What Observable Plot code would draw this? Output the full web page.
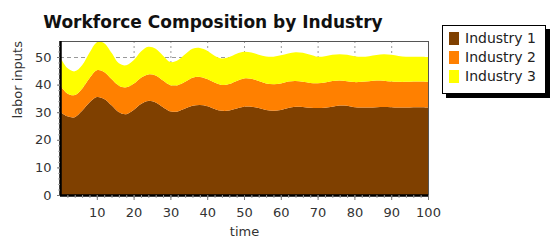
<!DOCTYPE html>
<html>
<head>
<meta charset="utf-8">
<script src="https://cdn.jsdelivr.net/npm/d3@7"></script>
<script src="https://cdn.jsdelivr.net/npm/@observablehq/plot@0.6"></script>
<style>
  html, body { margin: 0; padding: 0; background: #fff; }
  #wrap { position: relative; width: 556px; height: 242px; overflow: hidden; font-family: "DejaVu Sans", Verdana, sans-serif; }
  #title { position: absolute; left: 0; width: 426px; top: 12px; text-align: center; font-weight: bold; font-size: 17px; color: #111; white-space: nowrap; }
  #legend { position: absolute; left: 442px; top: 25px; width: 102px; height: 67px; border: 1px solid #000; background: #fff; box-shadow: 4px 4px 0 #000; }
  .item { position: absolute; left: 6px; font-size: 14px; color: #222; white-space: nowrap; }
  .sw { display: inline-block; width: 10px; height: 13px; vertical-align: -2px; margin-right: 6px; }
</style>
</head>
<body>
<div id="wrap">
  <div id="title">Workforce Composition by Industry</div>
  <div id="chart"></div>
  <div id="legend"></div>
</div>
<script>
const seriesNames = ["Industry 1", "Industry 2", "Industry 3"];
const seriesColors = ["#7f4000", "#ff8000", "#ffff00"];
const time = [0,2,4,6,8,10,12,14,16,18,20,22,24,26,28,30,32,34,36,38,40,42,44,46,48,50,52,54,56,58,60,62,64,66,68,70,72,74,76,78,80,82,84,86,88,90,92,94,96,98,100];
const industry1 = [30.2,28.5,28.2,30.5,33.5,35.5,34.8,32.5,30.0,29.3,30.8,33.0,34.1,33.5,31.8,30.3,30.3,31.3,32.3,32.6,32.2,31.2,30.5,30.6,31.3,32.0,32.0,31.5,30.8,30.5,30.8,31.5,32.0,31.9,31.6,31.5,31.6,32.0,32.4,32.3,31.8,31.7,31.7,31.8,31.9,31.8,31.7,31.7,31.8,31.8,31.7];
const industry2 = [9.7,8.3,8.0,8.0,8.8,9.7,9.8,9.5,9.6,9.7,9.5,9.5,9.6,9.8,9.7,9.5,9.5,9.7,10.2,10.2,9.8,9.6,9.4,9.6,10.0,10.2,10.1,9.8,9.6,9.6,9.6,9.6,9.3,9.1,9.0,9.0,9.2,9.3,9.1,8.9,9.1,9.3,9.5,9.7,9.5,9.3,9.3,9.3,9.3,9.3,9.3];
const industry3 = [10.1,9.2,8.6,8.5,9.2,10.1,10.4,9.5,8.1,8.0,8.5,9.5,10.0,9.7,9.0,8.4,9.0,10.0,10.5,10.5,10.3,9.7,9.6,9.8,9.9,9.7,9.5,9.5,9.8,10.0,10.2,10.2,10.4,10.5,10.2,9.6,9.5,9.5,9.5,9.6,9.4,9.1,9.1,9.2,9.6,9.7,9.4,9.1,9.0,9.0,9.0];
const xTicks = [10,20,30,40,50,60,70,80,90,100];
const yTicks = [0,10,20,30,40,50];

const seriesValues = [industry1, industry2, industry3];
const data = [];
seriesNames.forEach((name, s) => time.forEach((t, i) => data.push({time: t, value: seriesValues[s][i], industry: name})));
const minorTicks = d3.range(2, 101, 2);
const minorYTicks = d3.range(0, 56, 2);

const chart = Plot.plot({
  width: 556,
  height: 242,
  marginLeft: 60,
  marginRight: 128,
  marginTop: 41,
  marginBottom: 47,
  style: {fontFamily: "DejaVu Sans, Verdana, sans-serif", fontSize: "13px", color: "#333", background: "transparent"},
  x: {domain: [0, 100], axis: null},
  y: {domain: [0, 55.8], axis: null},
  color: {domain: seriesNames, range: seriesColors},
  marks: [
    Plot.ruleY(yTicks.slice(1), {stroke: "#999", strokeDasharray: "4,3"}),
    Plot.ruleX(xTicks.slice(0, -1), {stroke: "#999", strokeDasharray: "2,3"}),
    Plot.areaY(data, {x: "time", y: "value", fill: "industry", order: seriesNames, curve: "catmull-rom"}),
    Plot.frame({stroke: "#555", strokeWidth: 1}),
    Plot.ruleX([0], {stroke: "#000", strokeWidth: 2.5}),
    Plot.ruleY([0], {stroke: "#000", strokeWidth: 2.5}),
    Plot.axisX({ticks: minorTicks, tickSize: 3, tickFormat: () => "", label: null, anchor: "bottom", stroke: "#999"}),
    Plot.axisY({ticks: minorYTicks, tickSize: 2, tickFormat: () => "", label: null, anchor: "left", stroke: "#aaa"}),
    Plot.axisX({ticks: xTicks, tickSize: 5, tickPadding: 7, label: null, anchor: "bottom", stroke: "#777", fill: "#333"}),
    Plot.axisY({ticks: yTicks, tickSize: 3, tickPadding: 6, label: null, anchor: "left", stroke: "#777", fill: "#333"}),
    Plot.text(["time"], {frameAnchor: "bottom", dy: 40, fill: "#333", fontSize: 13}),
    Plot.text(["labor inputs"], {frameAnchor: "left", dx: -43, rotate: -90, fill: "#333", fontSize: 13})
  ]
});
document.getElementById("chart").appendChild(chart);

const legend = document.getElementById("legend");
seriesNames.forEach((name, i) => {
  const d = document.createElement("div");
  d.className = "item";
  d.style.top = (4 + i * 19) + "px";
  d.innerHTML = `<span class="sw" style="background:${seriesColors[i]}"></span>${name}`;
  legend.appendChild(d);
});
</script>
</body>
</html>
